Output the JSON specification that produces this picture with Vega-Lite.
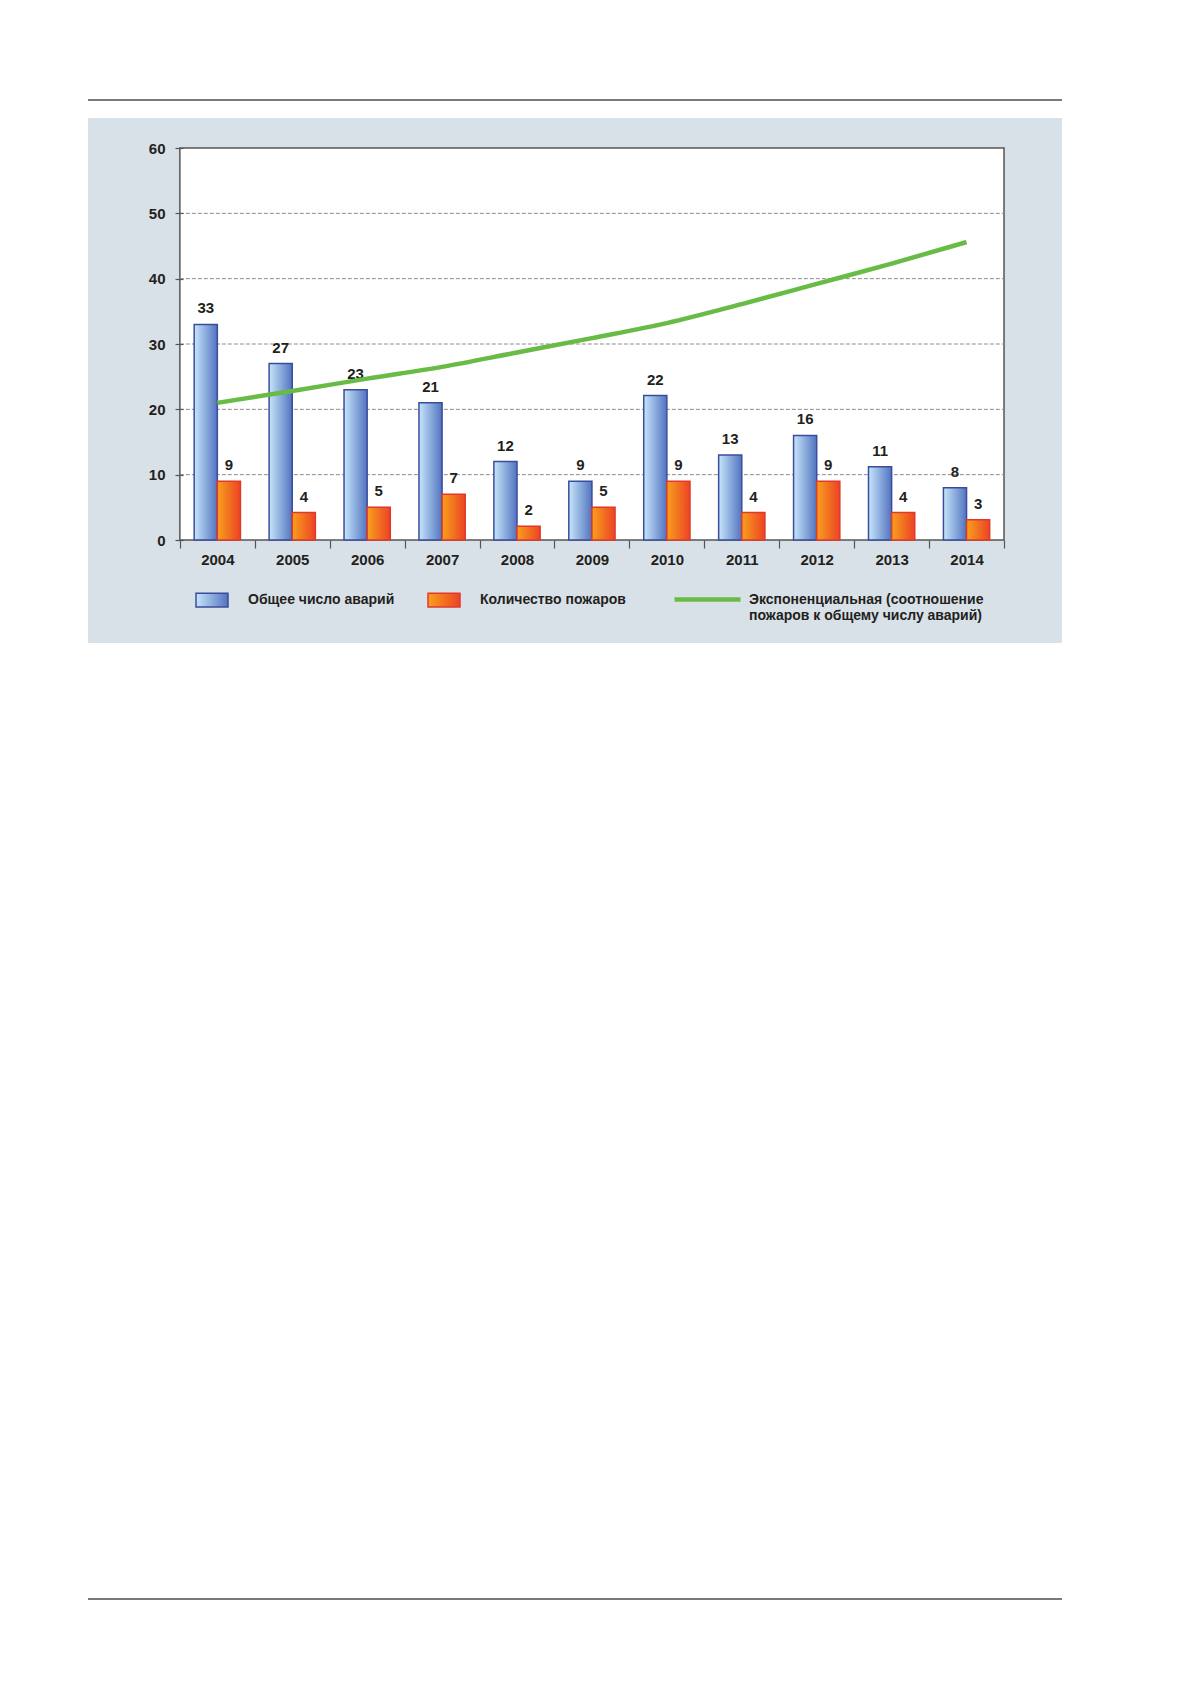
{
  "$schema": "https://vega.github.io/schema/vega-lite/v6.json",
  "width": 974,
  "height": 525,
  "autosize": {"type": "none"},
  "padding": {"left": 88, "top": 118, "right": 117, "bottom": 1038},
  "background": "white",
  "config": {
    "view": {"fill": "#d9e1e8", "stroke": null},
    "font": "Liberation Sans"
  },
  "datasets": {
    "counts": [
      {"year": "2004", "series": "Общее число аварий", "value": 33},
      {"year": "2004", "series": "Количество пожаров", "value": 9},
      {"year": "2005", "series": "Общее число аварий", "value": 27},
      {"year": "2005", "series": "Количество пожаров", "value": 4.2},
      {"year": "2006", "series": "Общее число аварий", "value": 23},
      {"year": "2006", "series": "Количество пожаров", "value": 5},
      {"year": "2007", "series": "Общее число аварий", "value": 21},
      {"year": "2007", "series": "Количество пожаров", "value": 7},
      {"year": "2008", "series": "Общее число аварий", "value": 12},
      {"year": "2008", "series": "Количество пожаров", "value": 2.1},
      {"year": "2009", "series": "Общее число аварий", "value": 9},
      {"year": "2009", "series": "Количество пожаров", "value": 5},
      {"year": "2010", "series": "Общее число аварий", "value": 22.1},
      {"year": "2010", "series": "Количество пожаров", "value": 9},
      {"year": "2011", "series": "Общее число аварий", "value": 13},
      {"year": "2011", "series": "Количество пожаров", "value": 4.2},
      {"year": "2012", "series": "Общее число аварий", "value": 16},
      {"year": "2012", "series": "Количество пожаров", "value": 9},
      {"year": "2013", "series": "Общее число аварий", "value": 11.2},
      {"year": "2013", "series": "Количество пожаров", "value": 4.2},
      {"year": "2014", "series": "Общее число аварий", "value": 8},
      {"year": "2014", "series": "Количество пожаров", "value": 3.1}
    ],
    "trend": [
      {"year": "2004", "value": 21.0},
      {"year": "2005", "value": 22.8},
      {"year": "2006", "value": 24.7},
      {"year": "2007", "value": 26.5},
      {"year": "2008", "value": 28.7},
      {"year": "2009", "value": 30.9},
      {"year": "2010", "value": 33.2},
      {"year": "2011", "value": 36.1},
      {"year": "2012", "value": 39.2},
      {"year": "2013", "value": 42.3},
      {"year": "2014", "value": 45.6}
    ],
    "grid": [{"v": 10}, {"v": 20}, {"v": 30}, {"v": 40}, {"v": 50}]
  },
  "layer": [
    {
      "data": {"values": [{}]},
      "mark": {"type": "rect", "fill": "white", "stroke": "#555555", "strokeWidth": 1.5},
      "encoding": {
        "x": {"datum": "2004", "type": "ordinal", "bandPosition": 0},
        "x2": {"datum": "2014", "bandPosition": 1},
        "y": {"datum": 60, "type": "quantitative"},
        "y2": {"datum": 0}
      }
    },
    {
      "data": {"name": "grid"},
      "mark": {"type": "rule", "color": "#8c8c8c", "strokeWidth": 1, "strokeDash": [4, 2]},
      "encoding": {
        "x": {"datum": "2004", "type": "ordinal", "bandPosition": 0},
        "x2": {"datum": "2014", "bandPosition": 1},
        "y": {"field": "v", "type": "quantitative", "title": null}
      }
    },
    {
      "data": {"name": "counts"},
      "mark": {"type": "bar", "strokeWidth": 1.5},
      "encoding": {
        "x": {
          "field": "year",
          "type": "ordinal",
          "title": null,
          "scale": {"paddingInner": 0, "paddingOuter": 1.041, "align": 0.613},
          "axis": {
            "orient": "bottom",
            "offset": -103,
            "zindex": 1,
            "domain": false,
            "grid": false,
            "tickBand": "extent",
            "tickSize": 8,
            "tickColor": "#555555",
            "tickWidth": 1.2,
            "labelAngle": 0,
            "labelAlign": "center",
            "labelFontSize": 15,
            "labelFontWeight": "bold",
            "labelColor": "#231f20",
            "labelPadding": 11
          }
        },
        "xOffset": {
          "field": "series",
          "type": "nominal",
          "sort": null,
          "scale": {"domain": ["Общее число аварий", "Количество пожаров"], "paddingOuter": 0.62, "paddingInner": 0}
        },
        "y": {
          "field": "value",
          "type": "quantitative",
          "title": null,
          "scale": {"domain": [-15.765, 64.592], "nice": false, "zero": false},
          "axis": {
            "orient": "left",
            "offset": -95,
            "zindex": 1,
            "values": [0, 10, 20, 30, 40, 50, 60],
            "domain": false,
            "grid": false,
            "tickSize": 8,
            "tickColor": "#555555",
            "tickWidth": 1.2,
            "labelFontSize": 15,
            "labelFontWeight": "bold",
            "labelColor": "#231f20",
            "labelPadding": 10
          }
        },
        "fill": {
          "field": "series",
          "type": "nominal",
          "scale": {
            "domain": ["Общее число аварий", "Количество пожаров"],
            "range": [
              {"expr": "{gradient: 'linear', x1: 0, y1: 0, x2: 1, y2: 0, stops: [{offset: 0, color: '#c6e6fa'}, {offset: 1, color: '#5273c0'}]}"},
              {"expr": "{gradient: 'linear', x1: 0, y1: 0, x2: 1, y2: 0, stops: [{offset: 0, color: '#f8a01c'}, {offset: 1, color: '#ec4325'}]}"}
            ]
          },
          "legend": {
            "title": null,
            "orient": "none",
            "legendX": 107,
            "legendY": 465,
            "direction": "horizontal",
            "symbolType": "M-1,-0.43H1V0.43H-1Z",
            "symbolSize": 1024,
            "labelFontSize": 14,
            "labelFontWeight": "bold",
            "labelColor": "#231f20",
            "labelOffset": 19,
            "labelLimit": 400,
            "columnPadding": 30,
            "encode": {
              "symbols": {
                "update": {
                  "fill": {"scale": "fill", "field": "value"},
                  "stroke": {"signal": "datum.value === 'Общее число аварий' ? '#3b4c9b' : '#e0392b'"},
                  "strokeWidth": {"value": 1.5}
                }
              }
            }
          }
        },
        "stroke": {
          "field": "series",
          "type": "nominal",
          "scale": {
            "domain": ["Общее число аварий", "Количество пожаров"],
            "range": ["#3b4c9b", "#e0392b"]
          },
          "legend": null
        }
      }
    },
    {
      "data": {"name": "counts"},
      "mark": {"type": "text", "baseline": "alphabetic", "dy": -11, "fontSize": 15, "fontWeight": "bold", "color": "#231f20"},
      "encoding": {
        "x": {"field": "year", "type": "ordinal", "title": null},
        "xOffset": {"field": "series", "type": "nominal", "sort": null},
        "y": {"field": "value", "type": "quantitative", "title": null},
        "text": {"field": "value", "type": "quantitative", "format": ".0f"}
      }
    },
    {
      "data": {"name": "trend"},
      "mark": {"type": "line", "strokeWidth": 4.5, "interpolate": "monotone"},
      "encoding": {
        "x": {"field": "year", "type": "ordinal", "title": null},
        "y": {"field": "value", "type": "quantitative", "title": null},
        "stroke": {
          "datum": "Экспоненциальная (соотношение пожаров к общему числу аварий)",
          "type": "nominal",
          "scale": {"range": ["#68bb45"]},
          "legend": {
            "title": null,
            "orient": "none",
            "legendX": 584,
            "legendY": 446,
            "symbolType": "stroke",
            "symbolSize": 4356,
            "symbolStrokeWidth": 4.5,
            "labelFontSize": 14,
            "labelFontWeight": "bold",
            "labelColor": "#231f20",
            "labelOffset": 6,
            "labelLimit": 400,
            "labelExpr": "['Экспоненциальная (соотношение', 'пожаров к общему числу аварий)']"
          }
        }
      }
    },
    {
      "data": {"values": [{}]},
      "mark": {"type": "rule", "color": "#7a7a7a", "strokeWidth": 2},
      "encoding": {"y": {"datum": 67.35, "type": "quantitative"}}
    },
    {
      "data": {"values": [{}]},
      "mark": {"type": "rule", "color": "#7a7a7a", "strokeWidth": 2},
      "encoding": {"y": {"datum": -162.09, "type": "quantitative"}}
    }
  ],
  "resolve": {"scale": {"stroke": "independent"}}
}
